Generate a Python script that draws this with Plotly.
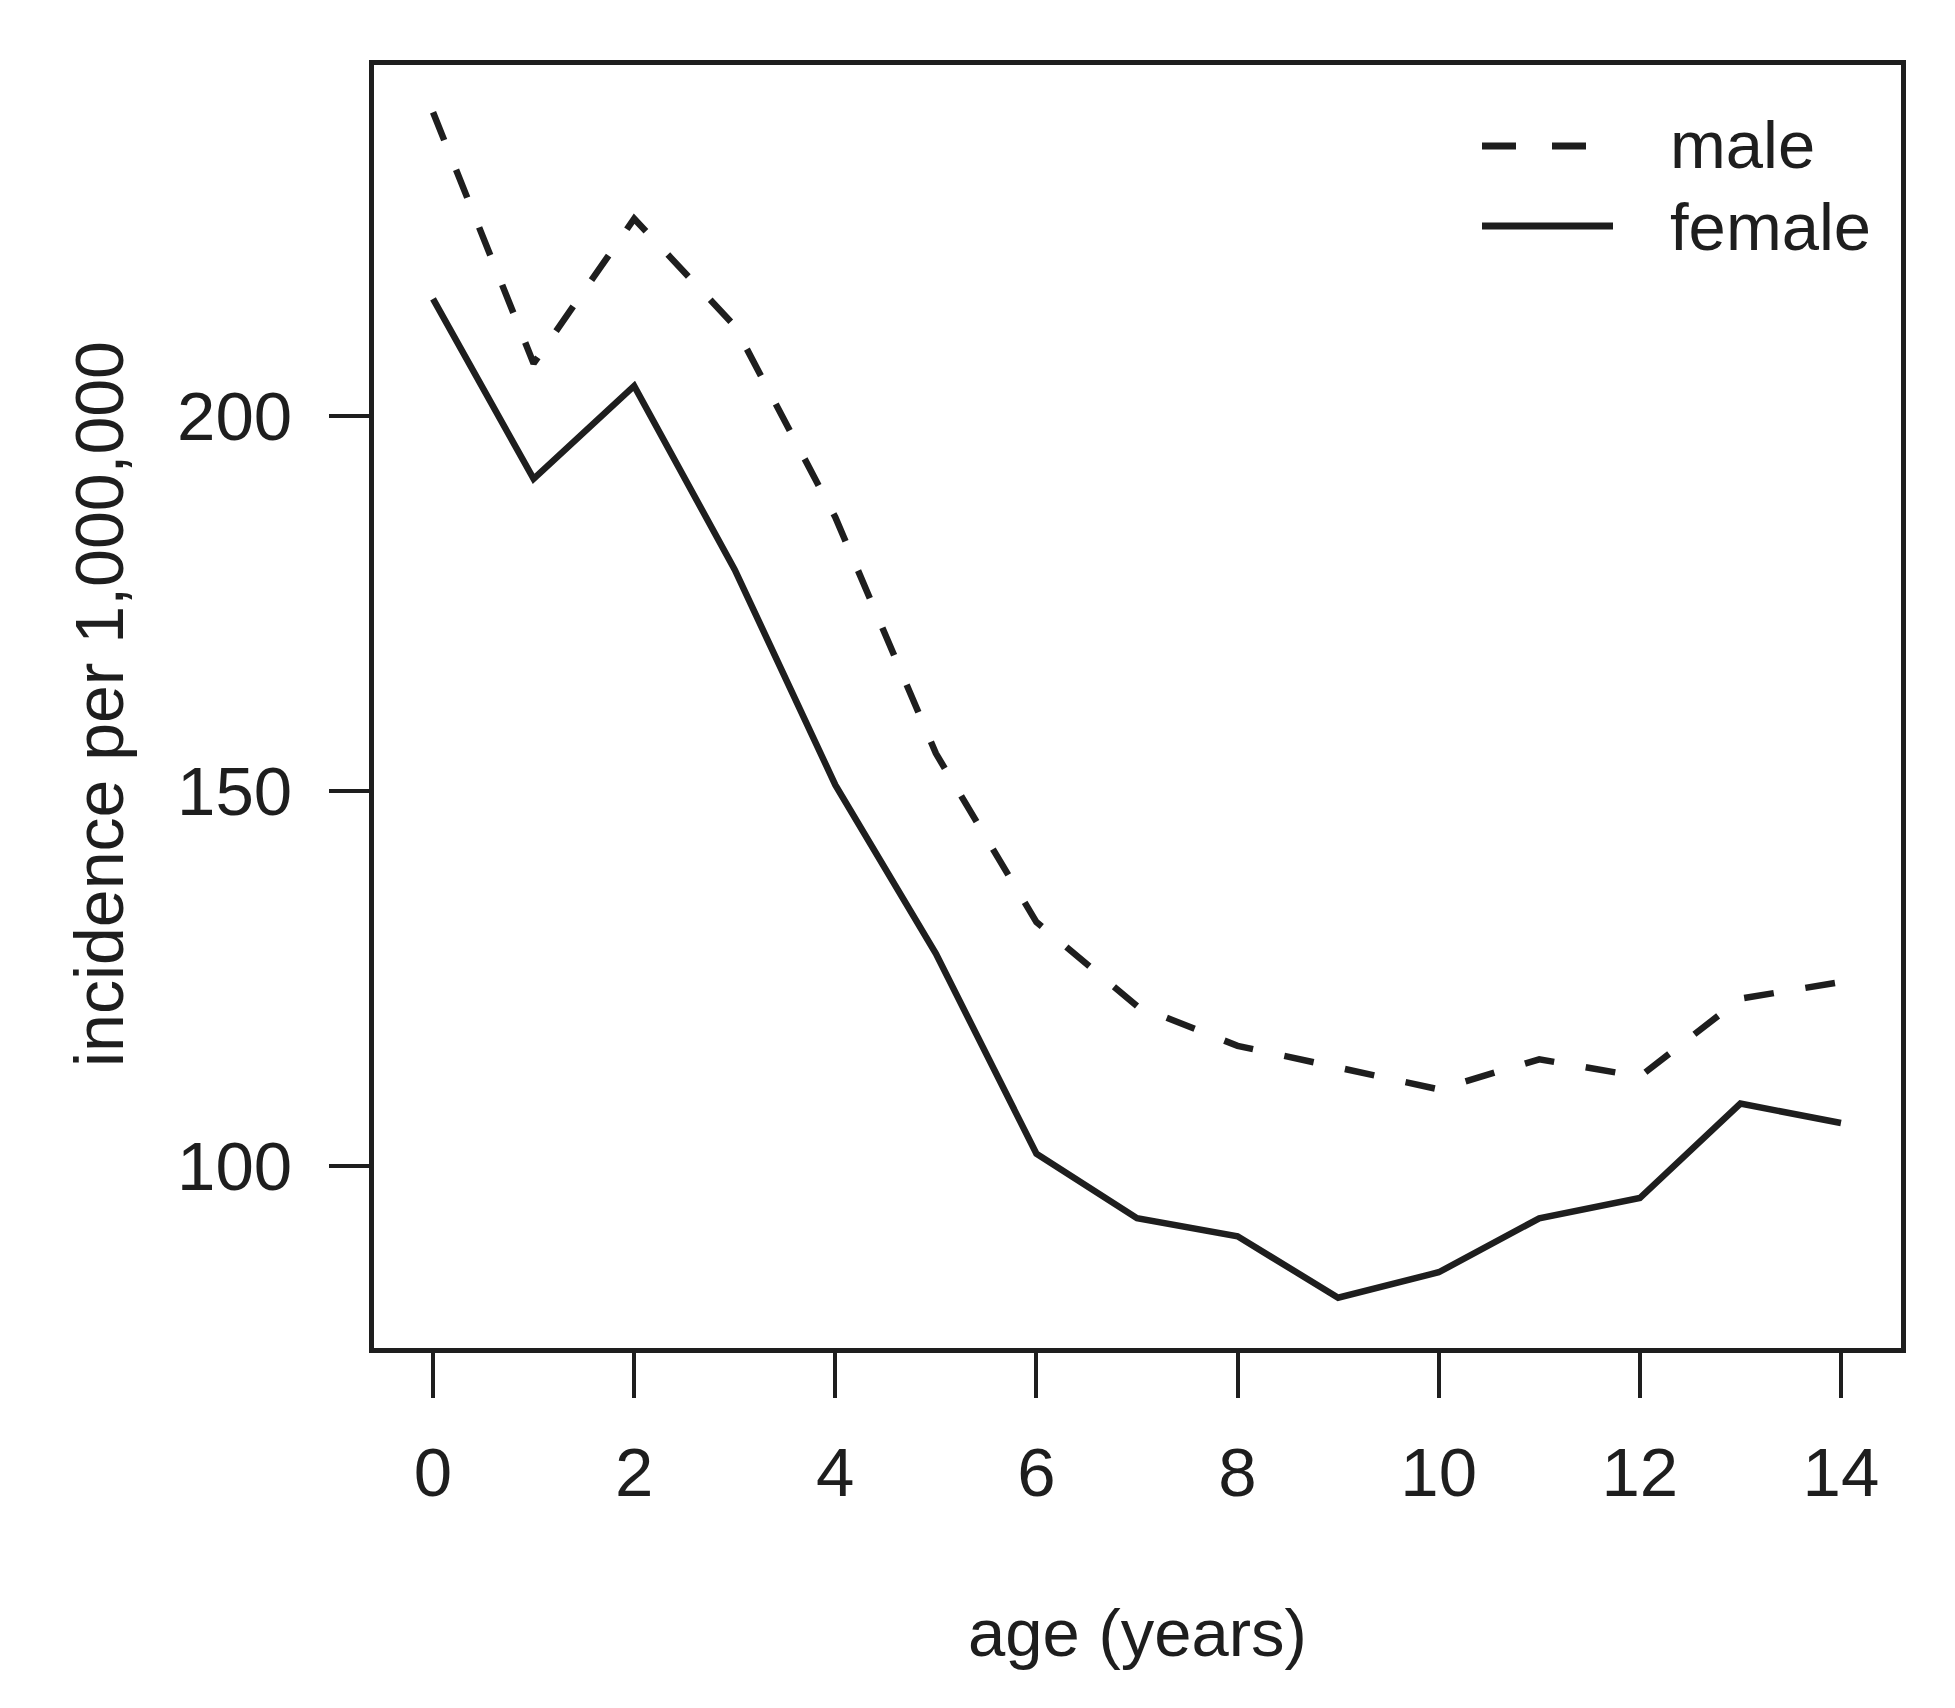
import plotly.graph_objects as go

age = list(range(15))
male = [240.5, 207, 226.3, 212, 186.5, 155, 132.5, 121.3, 116, 113, 110.2, 114.2, 111.9, 122.3, 124.5]
female = [215.6, 191.6, 204, 179.5, 150.8, 128.3, 101.6, 93, 90.6, 82.4, 85.8, 93, 95.7, 108.3, 105.7]
x_ticks = [0, 2, 4, 6, 8, 10, 12, 14]
y_ticks = [100, 150, 200]
legend_labels = ["male", "female"]

INK = "#1e1e1e"
FONT = "Liberation Sans, Arial, sans-serif"
W, H = 1955, 1708
L, R, T, B = 366, 62, 57, 368
pw, ph = W - L - R, H - T - B

fig = go.Figure()
fig.add_trace(go.Scatter(x=age, y=male, mode="lines", name="male",
                         line=dict(color=INK, width=6.5, dash="30px,32px"), showlegend=False))
fig.add_trace(go.Scatter(x=age, y=female, mode="lines", name="female",
                         line=dict(color=INK, width=6.5), showlegend=False))

def px(xp):
    return (xp - L) / pw

def py(yp):
    return 1 - (yp - T) / ph

# legend (R-style, no box)
fig.add_shape(type="line", xref="paper", yref="paper", x0=px(1474), x1=px(1580), y0=py(138), y1=py(138),
              line=dict(color=INK, width=7, dash="34px,36px"))
fig.add_shape(type="line", xref="paper", yref="paper", x0=px(1474), x1=px(1605), y0=py(218), y1=py(218),
              line=dict(color=INK, width=7))
for lab, yc in zip(legend_labels, [136, 218]):
    fig.add_annotation(text=lab, xref="paper", yref="paper", x=px(1660), y=py(yc),
                       xanchor="left", yanchor="middle", showarrow=False,
                       font=dict(family=FONT, size=67, color=INK))

fig.add_annotation(text="age (years)", xref="paper", yref="paper", x=px(1129), y=py(1624),
                   xanchor="center", yanchor="middle", showarrow=False,
                   font=dict(family=FONT, size=67, color=INK))
fig.add_annotation(text="incidence per 1,000,000", xref="paper", yref="paper", x=px(91), y=py(696),
                   xanchor="center", yanchor="middle", showarrow=False, textangle=-90,
                   font=dict(family=FONT, size=68, color=INK))

fig.update_layout(
    width=W, height=H,
    margin=dict(l=L, r=R, t=T, b=B),
    paper_bgcolor="white", plot_bgcolor="white",
    font=dict(family=FONT, size=66, color=INK),
    showlegend=False,
)
fig.update_xaxes(range=[-0.587, 14.597], tickvals=x_ticks, ticktext=[str(v) for v in x_ticks],
                 tickfont=dict(family=FONT, size=69, color=INK),
                 showgrid=False, zeroline=False, showline=True, mirror=True, linecolor=INK, linewidth=5,
                 ticks="outside", ticklen=45, tickwidth=4, tickcolor=INK, ticklabelstandoff=15)
fig.update_yaxes(range=[75.7, 246.8], tickvals=y_ticks, ticktext=[str(v) for v in y_ticks],
                 tickfont=dict(family=FONT, size=69, color=INK),
                 showgrid=False, zeroline=False, showline=True, mirror=True, linecolor=INK, linewidth=5,
                 ticks="outside", ticklen=40, tickwidth=4, tickcolor=INK, ticklabelstandoff=23)

fig.write_html("out.html")
